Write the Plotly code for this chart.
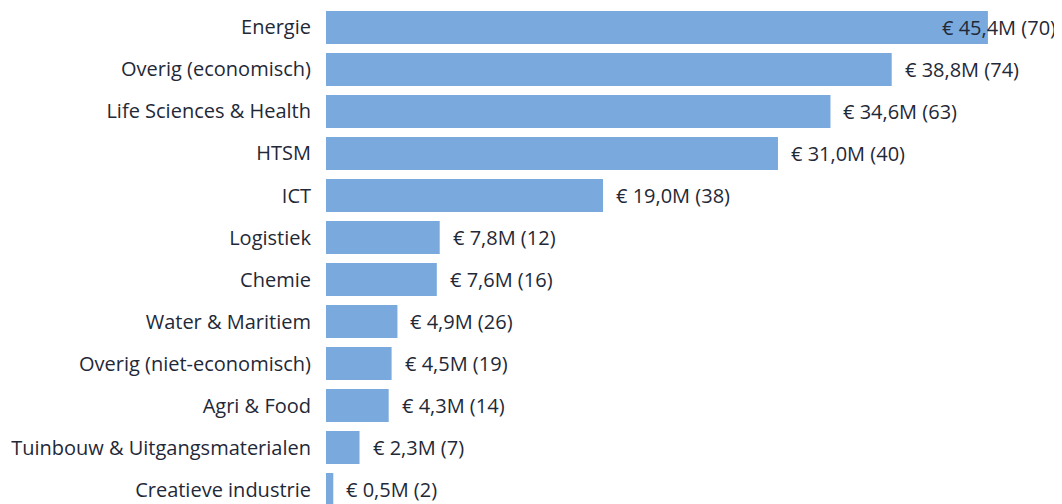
import plotly.graph_objects as go

categories = ["Energie", "Overig (economisch)", "Life Sciences & Health", "HTSM", "ICT",
              "Logistiek", "Chemie", "Water & Maritiem", "Overig (niet-economisch)",
              "Agri & Food", "Tuinbouw & Uitgangsmaterialen", "Creatieve industrie"]
amounts = [45.4, 38.8, 34.6, 31.0, 19.0, 7.8, 7.6, 4.9, 4.5, 4.3, 2.3, 0.5]
counts = [70, 74, 63, 40, 38, 12, 16, 26, 19, 14, 7, 2]
labels = ["€ {}M ({})".format(f"{a:.1f}".replace(".", ","), c) for a, c in zip(amounts, counts)]

BAR = "#7aaadd"
TXT = "#1f2937"
FONT = "Open Sans"
FS = 20

fig = go.Figure(go.Bar(
    x=amounts, y=categories, orientation="h",
    marker=dict(color=BAR, line=dict(width=0)),
    hoverinfo="skip",
))

xmax = 50.48
annotations = []
for cat, a, lab in zip(categories, amounts, labels):
    if a > 40:
        annotations.append(dict(x=1, xref="paper", y=cat, yref="y",
                                text=lab, showarrow=False, xanchor="right", xshift=-4,
                                font=dict(family=FONT, size=FS, color=TXT)))
    else:
        annotations.append(dict(x=a, xref="x", y=cat, yref="y",
                                text=lab, showarrow=False, xanchor="left", xshift=11,
                                font=dict(family=FONT, size=FS, color=TXT)))

# page body has an 8px margin, so the figure is sized to fill the remaining window
fig.update_layout(
    width=1054, height=496,
    margin=dict(l=318, r=0, t=0, b=0),
    paper_bgcolor="white", plot_bgcolor="white",
    bargap=0.214,
    showlegend=False,
    xaxis=dict(range=[0, xmax], visible=False, fixedrange=True),
    yaxis=dict(range=[11.345, -0.464], showgrid=False, showline=False, zeroline=False,
               ticks="", ticklabelstandoff=14,
               tickfont=dict(family=FONT, size=FS, color=TXT), fixedrange=True),
    annotations=annotations,
    font=dict(family=FONT),
)

fig.write_html("out.html", config={"displayModeBar": False})
